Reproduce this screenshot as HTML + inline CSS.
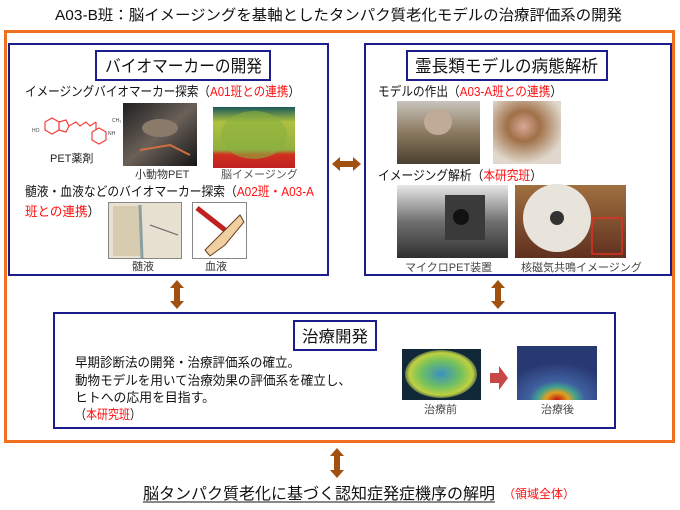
<!DOCTYPE html>
<html><head><meta charset="utf-8"><style>
html,body{margin:0;padding:0;background:#fff;width:680px;height:510px;overflow:hidden}
svg{display:block;font-family:"Liberation Sans","Noto Sans CJK JP",sans-serif}
</style></head><body>
<svg width="680" height="510" viewBox="0 0 680 510" xmlns="http://www.w3.org/2000/svg">
<defs>
<radialGradient id="brain1" cx="50%" cy="45%" r="60%"><stop offset="0" stop-color="#6fae3a"/><stop offset="0.6" stop-color="#c8c83a"/><stop offset="1" stop-color="#d04020"/></radialGradient>
<linearGradient id="brainL" x1="0" y1="0" x2="0" y2="1"><stop offset="0" stop-color="#1a5a5a"/><stop offset="0.25" stop-color="#b0c040"/><stop offset="0.7" stop-color="#90b040"/><stop offset="0.78" stop-color="#d03020"/><stop offset="1" stop-color="#c02020"/></linearGradient>
<radialGradient id="brainB" cx="50%" cy="50%" r="55%"><stop offset="0" stop-color="#3a90c0"/><stop offset="0.5" stop-color="#70c060"/><stop offset="0.8" stop-color="#c0d040"/><stop offset="1" stop-color="#103050"/></radialGradient>
<radialGradient id="brainA" cx="50%" cy="100%" r="70%"><stop offset="0" stop-color="#c01010"/><stop offset="0.2" stop-color="#e0a020"/><stop offset="0.35" stop-color="#40a090"/><stop offset="0.5" stop-color="#4060a0"/><stop offset="1" stop-color="#283870"/></radialGradient>
<linearGradient id="rat" x1="0" y1="0" x2="1" y2="1"><stop offset="0" stop-color="#202020"/><stop offset="0.5" stop-color="#6a6058"/><stop offset="1" stop-color="#151515"/></linearGradient>
<linearGradient id="mono1" x1="0" y1="0" x2="0" y2="1"><stop offset="0" stop-color="#c8c4bc"/><stop offset="0.5" stop-color="#8a7a60"/><stop offset="1" stop-color="#4a4030"/></linearGradient>
<radialGradient id="mono2" cx="45%" cy="40%" r="60%"><stop offset="0" stop-color="#d8a898"/><stop offset="0.4" stop-color="#a07048"/><stop offset="1" stop-color="#e0d8cc"/></radialGradient>
<linearGradient id="pet" x1="0" y1="0" x2="0" y2="1"><stop offset="0" stop-color="#e8e8e8"/><stop offset="0.5" stop-color="#707070"/><stop offset="1" stop-color="#303030"/></linearGradient>
<linearGradient id="mri" x1="0" y1="0" x2="0" y2="1"><stop offset="0" stop-color="#a07040"/><stop offset="1" stop-color="#603020"/></linearGradient>
</defs>

<!-- Title -->
<text x="55" y="20" font-size="15" fill="#111" textLength="567" lengthAdjust="spacingAndGlyphs">A03-B班：脳イメージングを基軸としたタンパク質老化モデルの治療評価系の開発</text>

<!-- Orange frame -->
<rect x="5.5" y="31.5" width="668" height="410" fill="none" stroke="#f07020" stroke-width="3"/>

<!-- Left box -->
<rect x="9" y="44" width="319" height="231" fill="#fff" stroke="#1c1c8c" stroke-width="2"/>
<rect x="96" y="51" width="174" height="29" fill="#fff" stroke="#1c1c8c" stroke-width="2"/>
<text x="105" y="72" font-size="17" fill="#111" textLength="157" lengthAdjust="spacingAndGlyphs">バイオマーカーの開発</text>
<text x="25" y="96" font-size="13" fill="#111" textLength="275" lengthAdjust="spacingAndGlyphs">イメージングバイオマーカー探索（<tspan fill="#ff1010">A01班との連携</tspan>）</text>

<!-- PET chemical -->
<g stroke="#f04040" stroke-width="1.2" fill="none">
<polygon points="45,122 52,118 59,122 59,130 52,134 45,130"/>
<polygon points="59,122 66,120 69,126 66,132 59,130"/>
<polyline points="69,126 76,122 80,126 86,122 90,126 96,122"/>
<polygon points="92,132 99,128 106,132 106,140 99,144 92,140"/>
<line x1="96" y1="122" x2="96" y2="130"/>
</g>
<text x="32" y="132" font-size="5" fill="#444">HO</text>
<text x="108" y="135" font-size="5" fill="#444">NH</text>
<text x="112" y="122" font-size="5" fill="#444">CH₃</text>
<text x="50" y="162" font-size="11" fill="#222">PET薬剤</text>

<rect x="123" y="103" width="74" height="63" fill="url(#rat)"/>
<ellipse cx="160" cy="128" rx="18" ry="9" fill="#8a7a6a"/>
<path d="M140 150 L170 145 L190 155" stroke="#d07040" stroke-width="2" fill="none"/>
<text x="135" y="178" font-size="11" fill="#333">小動物PET</text>

<rect x="213" y="107" width="82" height="61" fill="url(#brainL)"/>
<ellipse cx="254" cy="135" rx="33" ry="24" fill="#88b040" opacity="0.6"/>
<text x="221" y="178" font-size="11" fill="#555">脳イメージング</text>

<text x="25" y="196" font-size="13" fill="#111" textLength="289" lengthAdjust="spacingAndGlyphs">髄液・血液などのバイオマーカー探索（<tspan fill="#ff1010">A02班・A03-A</tspan></text>
<text x="25" y="216" font-size="13" fill="#111" textLength="75" lengthAdjust="spacingAndGlyphs"><tspan fill="#ff1010">班との連携</tspan>）</text>

<rect x="108.5" y="202.5" width="73" height="56" fill="#e8e0d0" stroke="#888"/>
<rect x="113" y="206" width="28" height="50" fill="#d8ccb0"/>
<line x1="140" y1="205" x2="142" y2="258" stroke="#8aa0a0" stroke-width="3"/>
<line x1="150" y1="225" x2="178" y2="235" stroke="#777" stroke-width="1.2"/>
<text x="132" y="270" font-size="11" fill="#333">髄液</text>

<rect x="192.5" y="202.5" width="54" height="56" fill="#fff" stroke="#888"/>
<line x1="197" y1="208" x2="225" y2="230" stroke="#c02020" stroke-width="5"/>
<path d="M205 250 L220 235 L240 215 L244 222 L225 245 L210 256 Z" fill="#f0d0a0" stroke="#6a4020"/>
<text x="205" y="270" font-size="11" fill="#333">血液</text>

<!-- Horizontal arrow -->
<polygon points="332,164 340,157 340,161 353,161 353,157 361,164 353,171 353,167 340,167 340,171" fill="#a0500f"/>

<!-- Right box -->
<rect x="365" y="44" width="306" height="231" fill="#fff" stroke="#1c1c8c" stroke-width="2"/>
<rect x="407" y="51" width="200" height="29" fill="#fff" stroke="#1c1c8c" stroke-width="2"/>
<text x="415" y="72" font-size="17" fill="#111" textLength="183" lengthAdjust="spacingAndGlyphs">霊長類モデルの病態解析</text>
<text x="378" y="96" font-size="13" fill="#111" textLength="184" lengthAdjust="spacingAndGlyphs">モデルの作出（<tspan fill="#ff1010">A03-A班との連携</tspan>）</text>
<rect x="397" y="101" width="83" height="63" fill="url(#mono1)"/>
<ellipse cx="438" cy="122" rx="14" ry="13" fill="#c0aa98"/>
<rect x="493" y="101" width="68" height="63" fill="url(#mono2)"/>
<text x="378" y="180" font-size="13" fill="#111" textLength="164" lengthAdjust="spacingAndGlyphs">イメージング解析（<tspan fill="#ff1010">本研究班</tspan>）</text>
<rect x="397" y="185" width="111" height="73" fill="url(#pet)"/>
<rect x="445" y="195" width="40" height="45" fill="#3a3a3a"/>
<circle cx="461" cy="217" r="8" fill="#111"/>
<rect x="515" y="185" width="111" height="73" fill="url(#mri)"/>
<circle cx="557" cy="218" r="34" fill="#e8e4dc"/>
<circle cx="557" cy="218" r="7" fill="#333"/>
<rect x="592" y="218" width="30" height="36" fill="none" stroke="#e03020" stroke-width="1.5"/>
<text x="405" y="271" font-size="11" fill="#444">マイクロPET装置</text>
<text x="521" y="271" font-size="11" fill="#444">核磁気共鳴イメージング</text>

<!-- Vertical arrows -->
<g fill="#a0500f">
<polygon points="177,280 184,288 180,288 180,301 184,301 177,309 170,301 174,301 174,288 170,288"/>
<polygon points="498,280 505,288 501,288 501,301 505,301 498,309 491,301 495,301 495,288 491,288"/>
<polygon points="337,448 344,456 340,456 340,470 344,470 337,478 330,470 334,470 334,456 330,456"/>
</g>

<!-- Bottom box -->
<rect x="54" y="313" width="561" height="115" fill="#fff" stroke="#1c1c8c" stroke-width="2"/>
<rect x="294" y="321" width="82" height="29" fill="#fff" stroke="#1c1c8c" stroke-width="2"/>
<text x="302" y="342" font-size="16" fill="#111" textLength="66" lengthAdjust="spacingAndGlyphs">治療開発</text>
<text x="75" y="367" font-size="13" fill="#111" textLength="225" lengthAdjust="spacingAndGlyphs">早期診断法の開発・治療評価系の確立。</text>
<text x="75" y="385" font-size="13" fill="#111" textLength="276" lengthAdjust="spacingAndGlyphs">動物モデルを用いて治療効果の評価系を確立し、</text>
<text x="75" y="402" font-size="13" fill="#111" textLength="140" lengthAdjust="spacingAndGlyphs">ヒトへの応用を目指す。</text>
<text x="75" y="419" font-size="13" fill="#111" textLength="66" lengthAdjust="spacingAndGlyphs">（<tspan fill="#ff1010">本研究班</tspan>）</text>

<rect x="402" y="349" width="79" height="51" fill="#102838"/>
<ellipse cx="441" cy="374" rx="36" ry="24" fill="url(#brainB)"/>
<polygon points="490,373 499,373 499,366 508,378 499,390 499,383 490,383" fill="#c84848"/>
<rect x="517" y="346" width="80" height="54" fill="url(#brainA)"/>
<text x="424" y="413" font-size="11" fill="#444">治療前</text>
<text x="541" y="413" font-size="11" fill="#444">治療後</text>

<!-- Bottom text -->
<text x="143" y="499" font-size="16" fill="#111" textLength="352" lengthAdjust="spacingAndGlyphs">脳タンパク質老化に基づく認知症発症機序の解明</text>
<line x1="143" y1="502" x2="495" y2="502" stroke="#111" stroke-width="1"/>
<text x="503" y="498" font-size="12" fill="#ff1010" textLength="72" lengthAdjust="spacingAndGlyphs">（領域全体）</text>
</svg>
</body></html>
